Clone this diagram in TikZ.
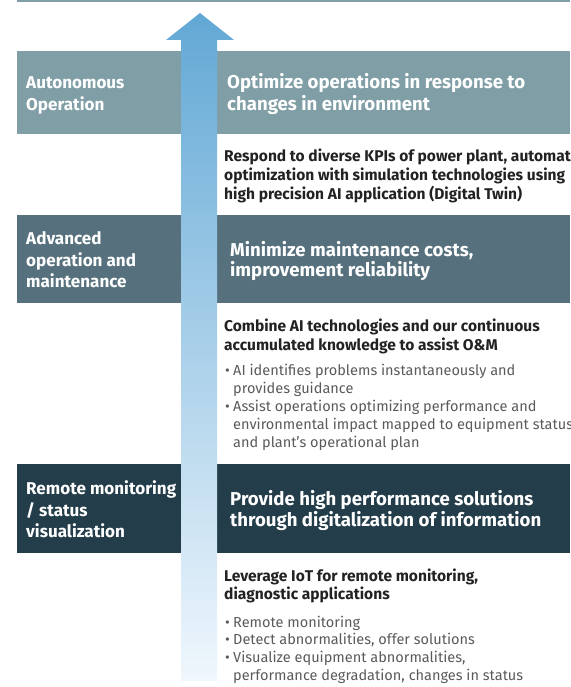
\documentclass[tikz,border=0pt]{standalone}
\usepackage{fontspec}
\setmainfont{Fira Sans}
\newlength\mywd
\newcommand\fitsize[4]{% macro, font cmd, sample, target width
  \settowidth\mywd{#2\fontsize{10}{12}\selectfont #3}%
  \pgfmathsetmacro#1{10*#4/\mywd}}
\newcommand\blk[3]{{\fontsize{#1}{#2}\selectfont\begin{tabular}[t]{@{}l@{}}#3\end{tabular}}}
\newcommand\bu{\makebox[8pt][l]{\textbullet}}
\newcommand\ind{\hspace*{8pt}}
\begin{document}
\fitsize{\lblsz}{\bfseries}{Remote monitoring}{150}%
\fitsize{\bigsz}{\bfseries}{Minimize maintenance costs,}{243}%
\fitsize{\headsz}{\bfseries}{optimization with simulation technologies using}{341}%
\fitsize{\bulsz}{}{performance degradation, changes in status}{290}%
\begin{tikzpicture}[x=1pt,y=-1pt,
  band/.style={draw=none,inner sep=0pt,anchor=north west,minimum width=553pt},
  lbl/.style={anchor=base west,inner sep=0pt,text=white,font=\bfseries},
  big/.style={anchor=base west,inner sep=0pt,text=white,font=\bfseries},
  head/.style={anchor=base west,inner sep=0pt,text=headc,font=\bfseries},
  bul/.style={anchor=base west,inner sep=0pt,text=bulc}]
\definecolor{cA}{HTML}{809EA6}
\definecolor{cB}{HTML}{56717D}
\definecolor{cC}{HTML}{233D4A}
\definecolor{headc}{HTML}{222222}
\definecolor{bulc}{HTML}{5A5A5A}
\definecolor{arrtop}{HTML}{62A8D5}
\definecolor{arrbot}{HTML}{F0F7FD}
\useasboundingbox (0,0) rectangle (570,687);
\clip (0,0) rectangle (570,687);
% top rule
\fill[cA] (17,0) rectangle (570,2.5);
% bands
\node[band,fill=cA,minimum height=83pt] (b1) at (17,51) {};
\node[band,fill=cB,minimum height=88pt] (b2) at (17,215) {};
\node[band,fill=cC,minimum height=89pt] (b3) at (17,464) {};
% arrow
\shade[top color=arrtop,bottom color=arrbot]
  (181,681) -- (181,40) -- (166,40) -- (200,13) -- (234,40) -- (217,40) -- (217,681) -- cycle;
\coordinate (tip) at (200,13);
% band labels
\node[lbl] (l1) at (26,89) {\blk{\lblsz}{21.5}{Autonomous\\Operation}};
\node[big] (r1) at (227,89) {\blk{\bigsz}{21}{Optimize operations in response to\\changes in environment}};
\node[lbl] (l2) at (26,244.5) {\blk{\lblsz}{21.5}{Advanced\\operation and\\maintenance}};
\node[big] (r2) at (230,256) {\blk{\bigsz}{19.5}{Minimize maintenance costs,\\improvement reliability}};
\node[lbl] (l3) at (26,494.5) {\blk{\lblsz}{21.5}{Remote monitoring\\/ status\\visualization}};
\node[big] (r3) at (230,505) {\blk{\bigsz}{21}{Provide high performance solutions\\through digitalization of information}};
% descriptions
\node[head] (h1) at (224,161) {\blk{\headsz}{19}{Respond to diverse KPIs of power plant, automatic\\optimization with simulation technologies using\\high precision AI application (Digital Twin)}};
\node[head] (h2) at (224,331) {\blk{\headsz}{19}{Combine AI technologies and our continuous\\accumulated knowledge to assist O\&M}};
\node[bul] (t2) at (225,375) {\blk{\bulsz}{18}{\bu AI identifies problems instantaneously and\\\ind provides guidance\\\bu Assist operations optimizing performance and\\\ind environmental impact mapped to equipment status\\\ind and plant’s operational plan}};
\node[head] (h3) at (224,581) {\blk{\headsz}{18.5}{Leverage IoT for remote monitoring,\\diagnostic applications}};
\node[bul] (t3) at (225,627) {\blk{\bulsz}{17.7}{\bu Remote monitoring\\\bu Detect abnormalities, offer solutions\\\bu Visualize equipment abnormalities,\\\ind performance degradation, changes in status}};
\end{tikzpicture}
\end{document}
